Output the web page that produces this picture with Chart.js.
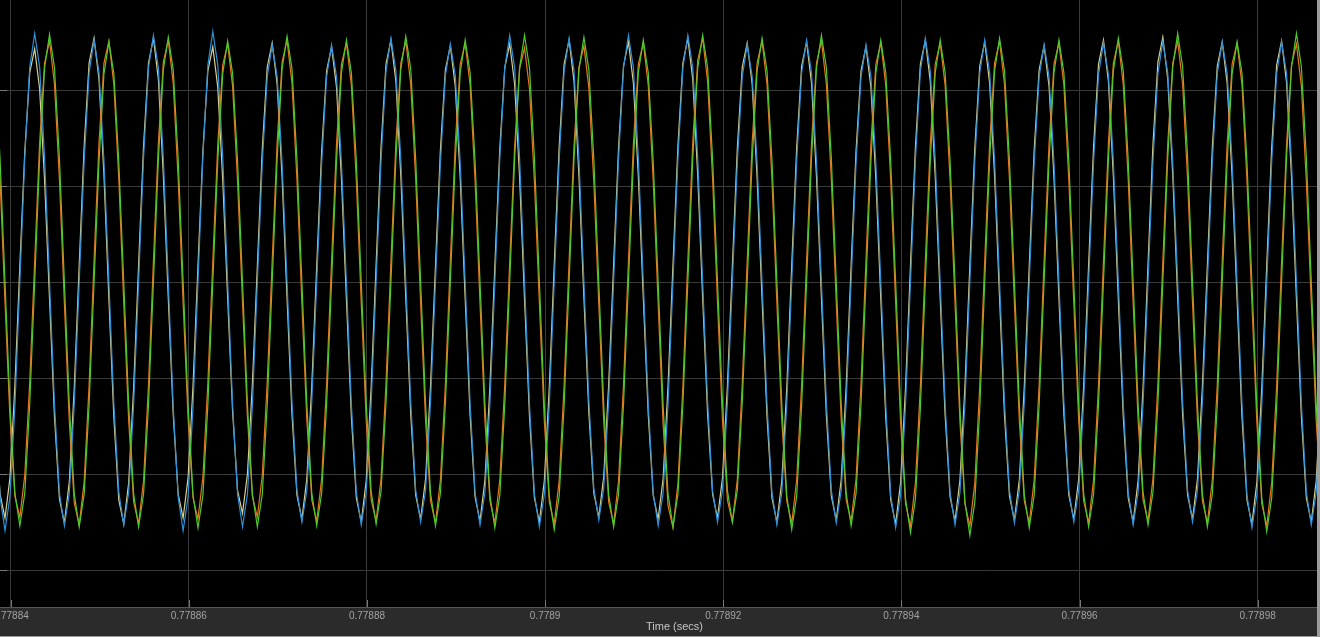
<!DOCTYPE html>
<html><head><meta charset="utf-8">
<script src="https://cdn.jsdelivr.net/npm/chart.js@4.4.1/dist/chart.umd.min.js"></script>
<style>
html,body{margin:0;padding:0;background:#9c9c9c;overflow:hidden;}
#wrap{position:relative;width:1320px;height:637px;}
</style></head><body>
<div id="wrap"><canvas id="c" width="1320" height="637"></canvas></div>
<script>
// sampling grid of the scope trace
const sampleStart = 0.77883825;
const samplePeriod = 5.5552e-7;
const xRange = [0.7788388, 0.77898666];
const yRange = [-3.3854, 2.9375];
const tickValues = [0.77884, 0.77886, 0.77888, 0.7789, 0.77892, 0.77894, 0.77896, 0.77898];
const gridLevels = [-3, -2, -1, 0, 1, 2];
const axisTitle = 'Time (secs)';

const blue = [
-1.30,-2.24,-2.59,-2.24,-1.30,0,1.30,2.24,2.59,2.24,1.30,0,
-1.27,-2.20,-2.54,-2.20,-1.27,0,1.26,2.18,2.52,2.18,1.26,0,
-1.27,-2.19,-2.53,-2.19,-1.27,0,1.29,2.23,2.57,2.23,1.29,0,
-1.30,-2.24,-2.59,-2.24,-1.30,0,1.31,2.26,2.61,2.26,1.31,0,
-1.28,-2.21,-2.55,-2.21,-1.28,0,1.24,2.14,2.47,2.14,1.24,0,
-1.25,-2.17,-2.50,-2.17,-1.25,0,1.24,2.14,2.47,2.14,1.24,0,
-1.27,-2.19,-2.53,-2.19,-1.27,0,1.27,2.20,2.54,2.20,1.27,0,
-1.25,-2.17,-2.50,-2.17,-1.25,0,1.24,2.15,2.48,2.15,1.24,0,
-1.27,-2.19,-2.53,-2.19,-1.27,0,1.29,2.23,2.57,2.23,1.29,0,
-1.28,-2.21,-2.55,-2.21,-1.28,0,1.27,2.20,2.54,2.20,1.27,0,
-1.24,-2.15,-2.48,-2.15,-1.24,0,1.29,2.23,2.57,2.23,1.29,0,
-1.27,-2.20,-2.54,-2.20,-1.27,0,1.29,2.23,2.57,2.23,1.29,0,
-1.25,-2.17,-2.50,-2.17,-1.25,0,1.24,2.14,2.47,2.14,1.24,0,
-1.27,-2.19,-2.53,-2.19,-1.27,0,1.26,2.18,2.52,2.18,1.26,0,
-1.26,-2.17,-2.51,-2.17,-1.26,0,1.24,2.14,2.47,2.14,1.24,0,
-1.28,-2.22,-2.56,-2.22,-1.28,0,1.27,2.20,2.54,2.20,1.27,0,
-1.27,-2.19,-2.53,-2.19,-1.27,0,1.26,2.18,2.52,2.18,1.26,0,
-1.26,-2.17,-2.51,-2.17,-1.26,0,1.24,2.14,2.47,2.14,1.24,0,
-1.25,-2.17,-2.50,-2.17,-1.25,0,1.25,2.16,2.49,2.16,1.25,0,
-1.27,-2.19,-2.53,-2.19,-1.27,0,1.25,2.17,2.50,2.17,1.25,0,
-1.25,-2.17,-2.50,-2.17,-1.25,0,1.25,2.17,2.50,2.17,1.25,0,
-1.28,-2.22,-2.56,-2.22,-1.28,0,1.25,2.17,2.50,2.17,1.25,0,
-1.27,-2.19,-2.53,-2.19,-1.27
];

const yellow = [
-1.38,-2.21,-2.46,-2.04,-1.08,0.17,1.36,2.18,2.43,2.01,1.06,-0.18,
-1.40,-2.26,-2.51,-2.08,-1.10,0.18,1.42,2.28,2.54,2.11,1.11,-0.18,
-1.41,-2.27,-2.52,-2.09,-1.10,0.18,1.42,2.28,2.54,2.11,1.11,-0.17,
-1.38,-2.21,-2.46,-2.04,-1.08,0.17,1.37,2.20,2.45,2.03,1.07,-0.17,
-1.35,-2.17,-2.41,-2.00,-1.06,0.17,1.39,2.24,2.49,2.06,1.09,-0.17,
-1.38,-2.22,-2.47,-2.05,-1.08,0.17,1.37,2.20,2.45,2.03,1.07,-0.18,
-1.40,-2.25,-2.50,-2.07,-1.10,0.18,1.41,2.27,2.52,2.09,1.10,-0.17,
-1.38,-2.22,-2.47,-2.05,-1.08,0.17,1.38,2.21,2.46,2.04,1.08,-0.17,
-1.39,-2.24,-2.49,-2.06,-1.09,0.17,1.39,2.23,2.48,2.06,1.09,-0.18,
-1.40,-2.25,-2.50,-2.07,-1.10,0.18,1.41,2.27,2.52,2.09,1.10,-0.17,
-1.37,-2.20,-2.45,-2.03,-1.07,0.18,1.40,2.25,2.50,2.07,1.10,-0.17,
-1.38,-2.22,-2.47,-2.05,-1.08,0.18,1.42,2.28,2.54,2.11,1.11,-0.17,
-1.38,-2.21,-2.46,-2.04,-1.08,0.17,1.39,2.24,2.49,2.06,1.09,-0.18,
-1.40,-2.25,-2.50,-2.07,-1.10,0.18,1.40,2.25,2.50,2.07,1.10,-0.17,
-1.39,-2.23,-2.48,-2.06,-1.09,0.17,1.37,2.20,2.45,2.03,1.07,-0.18,
-1.41,-2.27,-2.52,-2.09,-1.10,0.18,1.41,2.27,2.52,2.09,1.10,-0.17,
-1.39,-2.24,-2.49,-2.06,-1.09,0.18,1.40,2.25,2.50,2.07,1.10,-0.17,
-1.39,-2.23,-2.48,-2.06,-1.09,0.17,1.38,2.21,2.46,2.04,1.08,-0.17,
-1.38,-2.22,-2.47,-2.05,-1.08,0.18,1.41,2.27,2.52,2.09,1.10,-0.18,
-1.40,-2.25,-2.50,-2.07,-1.10,0.18,1.43,2.29,2.55,2.11,1.12,-0.17,
-1.38,-2.22,-2.47,-2.05,-1.08,0.18,1.40,2.25,2.50,2.07,1.10,-0.18,
-1.41,-2.27,-2.52,-2.09,-1.10,0.18,1.40,2.26,2.51,2.08,1.10,-0.18,
-1.40,-2.25,-2.50,-2.07,-1.10
];

const orange = [
2.06,1.07,-0.21,-1.41,-2.23,-2.45,-2.01,-1.04,0.22,1.45,2.28,2.51,
2.06,1.07,-0.22,-1.46,-2.30,-2.53,-2.08,-1.07,0.22,1.45,2.28,2.51,
2.06,1.07,-0.22,-1.45,-2.29,-2.52,-2.07,-1.07,0.22,1.45,2.29,2.52,
2.07,1.07,-0.22,-1.42,-2.25,-2.47,-2.03,-1.05,0.22,1.43,2.26,2.48,
2.04,1.05,-0.21,-1.41,-2.23,-2.45,-2.01,-1.04,0.22,1.45,2.29,2.52,
2.07,1.07,-0.22,-1.44,-2.27,-2.49,-2.05,-1.06,0.22,1.44,2.27,2.49,
2.05,1.06,-0.22,-1.44,-2.27,-2.49,-2.05,-1.06,0.22,1.45,2.28,2.51,
2.06,1.07,-0.22,-1.45,-2.28,-2.51,-2.06,-1.07,0.22,1.44,2.27,2.49,
2.05,1.06,-0.22,-1.45,-2.28,-2.51,-2.06,-1.07,0.21,1.41,2.22,2.44,
2.01,1.04,-0.22,-1.45,-2.29,-2.52,-2.07,-1.07,0.21,1.42,2.24,2.46,
2.02,1.04,-0.22,-1.45,-2.29,-2.52,-2.07,-1.07,0.22,1.44,2.27,2.49,
2.05,1.06,-0.22,-1.48,-2.33,-2.56,-2.10,-1.09,0.22,1.46,2.31,2.54,
2.09,1.08,-0.22,-1.44,-2.27,-2.50,-2.06,-1.06,0.22,1.45,2.28,2.51,
2.06,1.07,-0.22,-1.45,-2.28,-2.51,-2.06,-1.07,0.22,1.45,2.28,2.51,
2.06,1.07,-0.22,-1.44,-2.27,-2.49,-2.05,-1.06,0.22,1.44,2.27,2.49,
2.05,1.06,-0.22,-1.46,-2.31,-2.54,-2.09,-1.08,0.22,1.44,2.27,2.49,
2.05,1.06,-0.22,-1.46,-2.31,-2.54,-2.09,-1.08,0.22,1.45,2.28,2.51,
2.06,1.07,-0.22,-1.45,-2.28,-2.51,-2.06,-1.07,0.22,1.44,2.27,2.49,
2.05,1.06,-0.22,-1.45,-2.28,-2.51,-2.06,-1.07,0.22,1.45,2.28,2.51,
2.06,1.07,-0.22,-1.44,-2.27,-2.49,-2.05,-1.06,0.22,1.45,2.28,2.51,
2.06,1.07,-0.22,-1.45,-2.28,-2.51,-2.06,-1.07,0.22,1.44,2.27,2.49,
2.05,1.06,-0.22,-1.46,-2.31,-2.54,-2.09,-1.08,0.22,1.43,2.26,2.48,
2.04,1.05,-0.22,-1.45,-2.28
];

const green = [
2.21,1.28,0,-1.27,-2.20,-2.54,-2.20,-1.27,0,1.29,2.23,2.58,
2.23,1.29,0,-1.28,-2.21,-2.55,-2.21,-1.28,0,1.25,2.17,2.50,
2.17,1.25,0,-1.28,-2.21,-2.55,-2.21,-1.28,0,1.28,2.21,2.55,
2.21,1.28,0,-1.28,-2.22,-2.56,-2.22,-1.28,0,1.26,2.17,2.51,
2.17,1.26,0,-1.28,-2.21,-2.55,-2.21,-1.28,0,1.28,2.22,2.56,
2.22,1.28,0,-1.27,-2.20,-2.54,-2.20,-1.27,0,1.26,2.18,2.52,
2.18,1.26,0,-1.26,-2.18,-2.52,-2.18,-1.26,0,1.28,2.22,2.56,
2.22,1.28,0,-1.27,-2.20,-2.54,-2.20,-1.27,0,1.26,2.18,2.52,
2.18,1.26,0,-1.28,-2.22,-2.56,-2.22,-1.28,0,1.29,2.23,2.57,
2.23,1.29,0,-1.29,-2.23,-2.58,-2.23,-1.29,0,1.28,2.21,2.55,
2.21,1.28,0,-1.28,-2.21,-2.55,-2.21,-1.28,0,1.26,2.18,2.52,
2.18,1.26,0,-1.28,-2.21,-2.55,-2.21,-1.28,0,1.29,2.23,2.57,
2.23,1.29,0,-1.25,-2.17,-2.50,-2.17,-1.25,0,1.27,2.20,2.54,
2.20,1.27,0,-1.29,-2.23,-2.58,-2.23,-1.29,0,1.29,2.23,2.57,
2.23,1.29,0,-1.27,-2.20,-2.54,-2.20,-1.27,0,1.26,2.18,2.52,
2.18,1.26,0,-1.31,-2.26,-2.61,-2.26,-1.31,0,1.26,2.18,2.52,
2.18,1.26,0,-1.32,-2.29,-2.64,-2.29,-1.32,0,1.27,2.20,2.54,
2.20,1.27,0,-1.28,-2.22,-2.56,-2.22,-1.28,0,1.26,2.18,2.52,
2.18,1.26,0,-1.28,-2.21,-2.55,-2.21,-1.28,0,1.27,2.20,2.54,
2.20,1.27,0,-1.27,-2.19,-2.53,-2.19,-1.27,0,1.30,2.24,2.59,
2.24,1.30,0,-1.28,-2.21,-2.55,-2.21,-1.28,0,1.25,2.17,2.50,
2.17,1.25,0,-1.30,-2.25,-2.60,-2.25,-1.30,0,1.30,2.24,2.59,
2.24,1.30,0,-1.28,-2.21
];

const times = blue.map((_, i) => sampleStart + i * samplePeriod);

const scopeFrame = {
  id: 'scopeFrame',
  beforeDraw(chart) {
    const {ctx, chartArea: a, width, height} = chart;
    ctx.save();
    ctx.fillStyle = '#2b2b2b';
    ctx.fillRect(0, 0, width, height);
    ctx.fillStyle = '#000000';
    ctx.fillRect(a.left, a.top, a.right - a.left, a.bottom - a.top);
    ctx.fillStyle = '#9c9c9c';
    ctx.fillRect(a.right, 0, width - a.right, height);
    ctx.fillStyle = '#575757';
    ctx.fillRect(a.left, a.bottom, a.right - a.left, 1);
    ctx.fillStyle = '#9a9a9a';
    ctx.fillRect(0, height - 1, width, 1);
    ctx.restore();
  },
  beforeDatasetsDraw(chart) {
    const {ctx, chartArea: a, scales} = chart;
    ctx.save();
    ctx.strokeStyle = '#777777';
    ctx.lineWidth = 1;
    ctx.beginPath();
    tickValues.forEach(v => {
      const x = Math.round(scales.x.getPixelForValue(v)) + 0.5;
      ctx.moveTo(x, a.bottom - 7); ctx.lineTo(x, a.bottom);
    });
    gridLevels.forEach(v => {
      const y = Math.round(scales.y.getPixelForValue(v)) + 0.5;
      ctx.moveTo(a.left, y); ctx.lineTo(a.left + 7, y);
    });
    ctx.stroke();
    ctx.restore();
  },
  afterDraw(chart) {
    const {ctx, chartArea: a, height} = chart;
    ctx.save();
    ctx.fillStyle = '#c6c6c6';
    ctx.font = '11px "Liberation Sans", Arial, sans-serif';
    ctx.textAlign = 'center';
    ctx.textBaseline = 'middle';
    ctx.fillText(axisTitle, (a.left + a.right) / 2 + 16, height - 10);
    ctx.restore();
  }
};

new Chart(document.getElementById('c'), {
  type: 'line',
  data: {
    labels: times,
    datasets: [
      {label: 'green', data: green, borderColor: '#4ccb2b'},
      {label: 'orange', data: orange, borderColor: '#e8741e'},
      {label: 'blue', data: blue, borderColor: '#2a90da'},
      {label: 'yellow', data: yellow, borderColor: '#d9d08e'}
    ]
  },
  options: {
    responsive: false,
    devicePixelRatio: 1,
    animation: false,
    events: [],
    layout: {padding: {left: 0, right: 3, top: 0, bottom: 0}},
    elements: {
      line: {tension: 0, borderWidth: 1.2, fill: false},
      point: {radius: 0}
    },
    datasets: {line: {clip: 0}},
    plugins: {legend: {display: false}, tooltip: {enabled: false}},
    scales: {
      x: {
        type: 'linear',
        min: xRange[0], max: xRange[1],
        afterBuildTicks: s => { s.ticks = tickValues.map(v => ({value: v})); },
        afterFit: s => { s.height = 30; s.paddingLeft = 0; s.paddingRight = 0; },
        ticks: {
          autoSkip: false, maxRotation: 0, padding: 3,
          color: '#a2a2a2',
          font: {family: 'Liberation Sans', size: 10},
          callback: v => String(Number(Number(v).toFixed(5)))
        },
        grid: {color: '#3a3a3a', lineWidth: 1, drawTicks: false},
        border: {display: false},
        title: {display: false, text: axisTitle}
      },
      y: {
        type: 'linear',
        min: yRange[0], max: yRange[1],
        afterBuildTicks: s => { s.ticks = gridLevels.map(v => ({value: v})); },
        afterFit: s => { s.width = 0; },
        ticks: {display: false},
        grid: {color: '#3a3a3a', lineWidth: 1, drawTicks: false},
        border: {display: false}
      }
    }
  },
  plugins: [scopeFrame]
});
</script>
</body></html>
